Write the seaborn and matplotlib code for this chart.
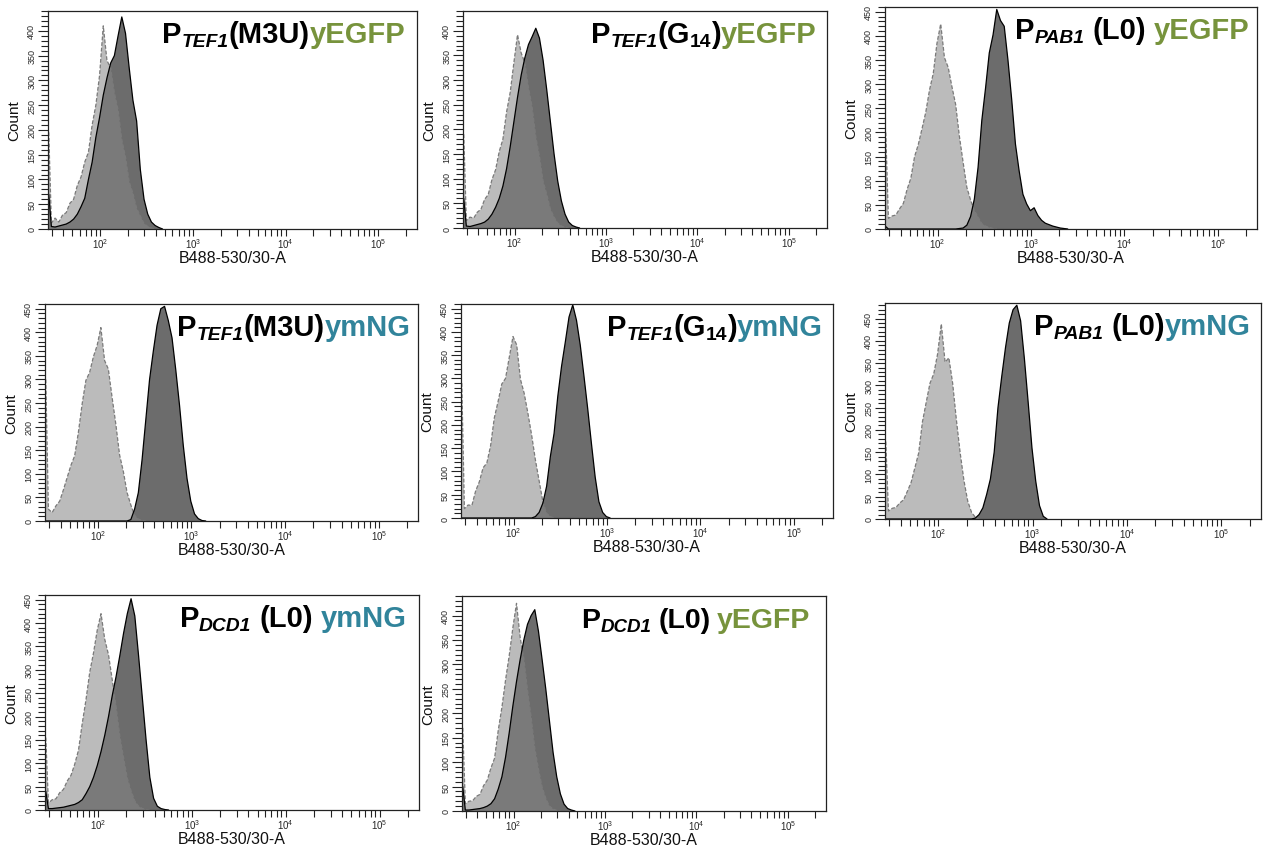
import numpy as np
import matplotlib
matplotlib.use("Agg")
import matplotlib.pyplot as plt
from matplotlib.ticker import FixedLocator, NullFormatter, FuncFormatter
import seaborn as sns

# ---------------------------------------------------------------------------
# Histogram data: event counts per log10 bin of B488-530/30-A fluorescence.
# Bin 0 is the narrow pile-up bin at the lower display edge; the remaining
# bins are 0.04 decades wide.
# ---------------------------------------------------------------------------
X_MIN_LOG = 1.436          # lower display limit (log10)
FIRST_REGULAR_EDGE = 1.452
BIN_WIDTH = 0.04
X_MAX = 262144

panel_names = ["P1", "P2", "P3", "P4", "P5", "P6", "P7", "P8"]

ctrl_p1 = [195,
           12, 22, 14, 28, 33, 52, 60, 88, 105, 135,
           155, 210, 250, 310, 410, 340, 325, 275, 240, 180,
           145, 95, 72, 42, 26, 11, 5, 2, 0]
smpl_p1 = [70,
           5, 4, 6, 8, 10, 14, 20, 30, 45, 62,
           100, 135, 185, 225, 270, 305, 335, 350, 390, 428,
           395, 325, 260, 218, 120, 60, 30, 14, 7, 3, 0]

ctrl_p2 = [190,
           15, 22, 20, 32, 38, 58, 68, 98, 118, 155,
           180, 235, 275, 335, 392, 355, 335, 285, 245, 185,
           145, 95, 68, 38, 22, 10, 4, 1, 0]
smpl_p2 = [60,
           4, 3, 5, 7, 9, 12, 18, 28, 42, 60,
           85, 120, 165, 215, 265, 310, 345, 372, 388, 405,
           385, 340, 280, 215, 150, 95, 55, 28, 12, 5, 2, 0]

ctrl_p3 = [200,
           22, 27, 29, 42, 53, 82, 105, 150, 175, 208,
           242, 288, 322, 385, 425, 355, 335, 295, 258, 192,
           138, 86, 60, 38, 25, 11, 6, 3, 1, 0]
smpl_p3 = [5,
           0, 0, 0, 0, 0, 0, 0, 0, 0, 0,
           0, 0, 0, 0, 0, 0, 0, 0, 0, 1,
           2, 8, 26, 62, 128, 225, 292, 365, 402, 455,
           432, 420, 350, 268, 176, 120, 72, 52, 38, 44,
           28, 18, 12, 9, 6, 4, 2, 1, 0]

ctrl_p4 = [300,
           25, 18, 32, 42, 66, 92, 118, 138, 188, 248,
           298, 315, 348, 372, 410, 340, 322, 262, 205, 140,
           105, 60, 34, 12, 4, 1, 0]
smpl_p4 = [0,
           0, 0, 0, 0, 0, 0, 0, 0, 0, 0,
           0, 0, 0, 0, 0, 0, 0, 0, 0, 0,
           0, 0, 3, 25, 60, 130, 215, 300, 360, 415,
           450, 455, 425, 388, 320, 245, 160, 90, 42, 15,
           5, 1, 0]

ctrl_p5 = [290,
           20, 28, 27, 58, 78, 108, 118, 155, 215, 250,
           288, 300, 345, 390, 372, 298, 268, 225, 178, 125,
           80, 35, 10, 3, 0]
smpl_p5 = [0,
           0, 0, 0, 0, 0, 0, 0, 0, 0, 0,
           0, 0, 0, 0, 0, 0, 0, 0, 0, 3,
           12, 32, 68, 132, 182, 262, 326, 378, 432, 458,
           425, 372, 305, 235, 160, 88, 35, 12, 3, 0]

ctrl_p6 = [174,
           18, 24, 26, 36, 43, 62, 82, 115, 148, 218,
           262, 305, 326, 370, 438, 352, 362, 305, 222, 148,
           86, 40, 15, 4, 0]
smpl_p6 = [0,
           0, 0, 0, 0, 0, 0, 0, 0, 0, 0,
           0, 0, 0, 0, 0, 0, 0, 0, 0, 0,
           0, 0, 0, 2, 10, 25, 55, 90, 150, 250,
           320, 385, 440, 470, 480, 445, 360, 262, 160, 85,
           30, 6, 0]

ctrl_p7 = [155,
           15, 22, 24, 37, 44, 62, 74, 98, 128, 185,
           236, 295, 336, 385, 420, 365, 332, 278, 222, 158,
           112, 68, 41, 19, 8, 3, 1, 0]
smpl_p7 = [40,
           3, 3, 4, 5, 6, 8, 10, 12, 16, 22,
           35, 50, 70, 95, 125, 160, 200, 245, 285, 330,
           378, 420, 452, 415, 330, 240, 150, 70, 25, 8,
           3, 1, 0]

ctrl_p8 = [170,
           15, 20, 21, 30, 34, 52, 63, 88, 108, 165,
           212, 268, 318, 375, 425, 355, 312, 248, 192, 128,
           86, 49, 26, 10, 4, 1, 0]
smpl_p8 = [50,
           2, 2, 3, 4, 5, 7, 10, 15, 25, 45,
           70, 110, 160, 215, 265, 310, 350, 382, 400, 412,
           368, 310, 250, 185, 120, 70, 35, 14, 5, 2, 0]

control_counts = [ctrl_p1, ctrl_p2, ctrl_p3, ctrl_p4, ctrl_p5, ctrl_p6, ctrl_p7, ctrl_p8]
sample_counts = [smpl_p1, smpl_p2, smpl_p3, smpl_p4, smpl_p5, smpl_p6, smpl_p7, smpl_p8]
y_max = [440, 440, 460, 460, 460, 485, 460, 440]

# Title pieces: (text, kind, colour key, leading gap in spaces)
title_pieces = [
    [("P", "main", "k", 0), ("TEF1", "sub_it", "k", 0), ("(M3U)", "main", "k", 0), ("yEGFP", "main", "g", 0)],
    [("P", "main", "k", 0), ("TEF1", "sub_it", "k", 0), ("(G", "main", "k", 0), ("14", "sub", "k", 0),
     (")", "main", "k", 0), ("yEGFP", "main", "g", 0)],
    [("P", "main", "k", 0), ("PAB1", "sub_it", "k", 0), ("(L0)", "main", "k", 1), ("yEGFP", "main", "g", 1)],
    [("P", "main", "k", 0), ("TEF1", "sub_it", "k", 0), ("(M3U)", "main", "k", 0), ("ymNG", "main", "t", 0)],
    [("P", "main", "k", 0), ("TEF1", "sub_it", "k", 0), ("(G", "main", "k", 0), ("14", "sub", "k", 0),
     (")", "main", "k", 0), ("ymNG", "main", "t", 0)],
    [("P", "main", "k", 0), ("PAB1", "sub_it", "k", 0), ("(L0)", "main", "k", 1), ("ymNG", "main", "t", 0)],
    [("P", "main", "k", 0), ("DCD1", "sub_it", "k", 0), ("(L0)", "main", "k", 1), ("ymNG", "main", "t", 1)],
    [("P", "main", "k", 0), ("DCD1", "sub_it", "k", 0), ("(L0)", "main", "k", 0.9), ("yEGFP", "main", "g", 0.9)],
]

x_label = "B488-530/30-A"
y_label = "Count"

# ---------------------------------------------------------------------------
# Layout and style
# ---------------------------------------------------------------------------
W, H, DPI = 1265, 853, 100
# axes boxes in pixels: left, top, right, bottom
boxes = [
    (48, 12, 417, 230), (463, 12, 827, 229), (885, 8, 1257, 230),
    (45, 305, 418, 522), (461, 305, 833, 519), (885, 304, 1261, 520),
    (45, 596, 419, 811), (462, 597, 826, 812),
]
title_x = [0.31, 0.352, 0.35, 0.355, 0.392, 0.397, 0.36, 0.328]
title_size = [21, 21, 21, 21, 21, 21, 21, 20.5]

COLORS = {"k": "#000000", "g": "#77933C", "t": "#31849B"}
LIGHT = "#BBBBBB"
DARK = "#6C6C6C"
FRAME = "#222222"

sns.set_style("ticks")
plt.rcParams["font.family"] = ["Liberation Sans", "DejaVu Sans"]
plt.rcParams["mathtext.fontset"] = "custom"
plt.rcParams["mathtext.rm"] = "Liberation Sans"
plt.rcParams["mathtext.it"] = "Liberation Sans:italic"
plt.rcParams["mathtext.bf"] = "Liberation Sans:bold"


def bin_edges(n):
    return np.concatenate([[X_MIN_LOG], FIRST_REGULAR_EDGE + BIN_WIDTH * np.arange(n)])


def draw_hist(ax, counts, **kws):
    counts = np.asarray(counts, dtype=float)
    edges = bin_edges(len(counts))
    centers = 0.5 * (edges[:-1] + edges[1:])
    sns.histplot(x=10 ** centers, weights=counts, bins=edges.tolist(), log_scale=True,
                 element="poly", ax=ax, **kws)


def add_title(ax, x0, pieces, main_size):
    prev = None
    drop = -22
    sub_size = main_size * 0.66
    for text, kind, ckey, gap in pieces:
        if kind == "main":
            size, style, dy = main_size, "normal", drop
        elif kind == "sub_it":
            size, style, dy = sub_size, "italic", drop - 3.5
        else:
            size, style, dy = sub_size, "normal", drop - 3.5
        dx = 5.5 * gap
        if prev is None:
            xy, xyc = (x0, 1.0), "axes fraction"
        else:
            xy, xyc = (1.0, 1.0), (prev, "axes fraction")
        prev = ax.annotate(text, xy=xy, xycoords=xyc, xytext=(dx, dy),
                           textcoords="offset points", ha="left", va="baseline",
                           fontsize=size, fontweight="bold", fontstyle=style,
                           color=COLORS[ckey])


def log_label(v, _):
    return r"$10^{%d}$" % int(round(np.log10(v)))


fig = plt.figure(figsize=(W / DPI, H / DPI), dpi=DPI)

for i, name in enumerate(panel_names):
    l, t, r, b = boxes[i]
    ax = fig.add_axes([l / W, 1 - b / H, (r - l) / W, (b - t) / H])

    ctrl = control_counts[i]
    smpl = sample_counts[i]

    # unstained control underneath, sample on top, faint control veil over both
    draw_hist(ax, ctrl, fill=True, color=LIGHT, alpha=1, edgecolor="none", linewidth=0)
    draw_hist(ax, smpl, fill=True, color=DARK, alpha=1, edgecolor="none", linewidth=0)
    draw_hist(ax, ctrl, fill=True, color=LIGHT, alpha=0.18, edgecolor="none", linewidth=0)
    draw_hist(ax, ctrl, fill=False, color="#7A7A7A", linestyle=(0, (3, 1.5)), linewidth=0.9)
    draw_hist(ax, smpl, fill=False, color="#000000", linewidth=0.9)

    ax.set_xlim(10 ** X_MIN_LOG, X_MAX)
    ax.set_ylim(0, y_max[i])

    ax.xaxis.set_major_locator(FixedLocator([1e2, 1e3, 1e4, 1e5]))
    ax.xaxis.set_major_formatter(FuncFormatter(log_label))
    minor = [m * 10.0 ** e for e in range(1, 6) for m in range(2, 10)
             if 10 ** X_MIN_LOG <= m * 10.0 ** e <= X_MAX]
    ax.xaxis.set_minor_locator(FixedLocator(minor))
    ax.xaxis.set_minor_formatter(NullFormatter())

    ax.yaxis.set_major_locator(FixedLocator(np.arange(0, y_max[i] + 1, 50)))
    ax.yaxis.set_minor_locator(FixedLocator(np.arange(0, y_max[i] + 1, 10)))

    ax.tick_params(axis="x", which="major", length=5, width=0.8, color=FRAME,
                   labelsize=7, pad=0.5, direction="out")
    ax.tick_params(axis="x", which="minor", length=5, width=0.8, color=FRAME, direction="out")
    ax.tick_params(axis="y", which="major", length=7, width=0.8, color=FRAME,
                   labelsize=6.5, pad=1.5, labelrotation=90, direction="out")
    ax.tick_params(axis="y", which="minor", length=5, width=0.8, color=FRAME, direction="out")
    for lab in ax.get_yticklabels():
        lab.set_verticalalignment("center")

    for side in ["top", "right", "bottom", "left"]:
        ax.spines[side].set_visible(True)
        ax.spines[side].set_linewidth(0.9)
        ax.spines[side].set_color(FRAME)

    ax.set_xlabel(x_label, fontsize=11.5, labelpad=0, color="#111111")
    ax.set_ylabel(y_label, fontsize=11, labelpad=4, color="#111111")

    add_title(ax, title_x[i], title_pieces[i], title_size[i])

fig.savefig("out.png", dpi=DPI)
